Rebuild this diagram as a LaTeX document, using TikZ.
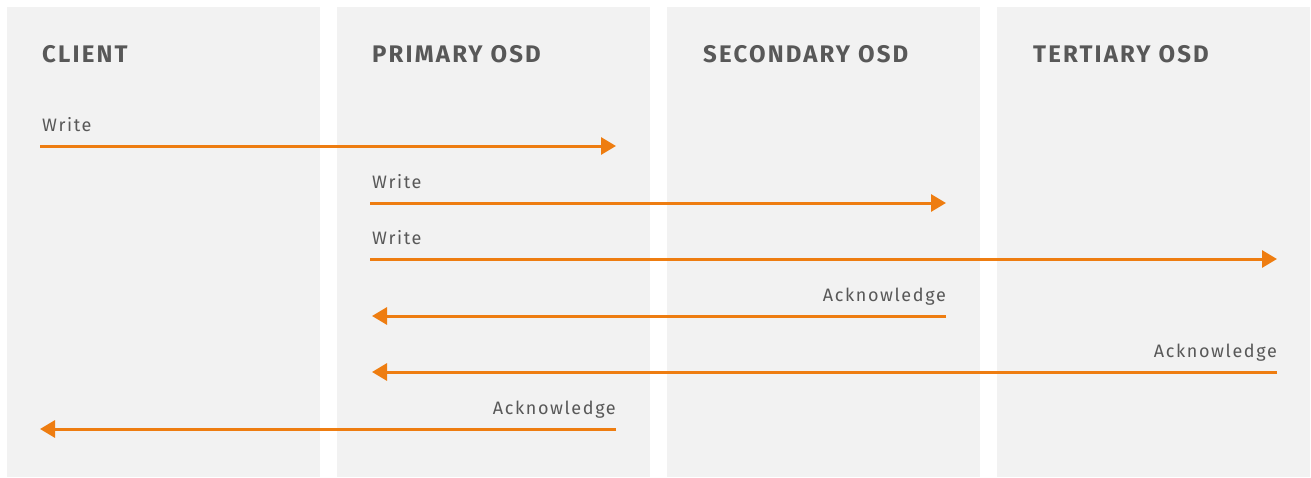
\documentclass[tikz,border=0pt]{standalone}
\usepackage{fontspec}
\setmainfont{Fira Sans}[LetterSpace=9]
\usepackage{xcolor}
\usetikzlibrary{positioning,arrows.meta}

\definecolor{lanegray}{HTML}{F2F2F2}
\definecolor{msgorange}{HTML}{EE7D11}
\definecolor{txtgray}{HTML}{585858}

\begin{document}
\begin{tikzpicture}[x=1pt,y=-1pt]
\tikzstyle{lanehead}=[anchor=base west,inner sep=0pt,text=txtgray,font=\fontsize{24}{26}\selectfont\bfseries]
\tikzstyle{msglabel}=[inner sep=0pt,text=txtgray,font=\fontsize{18}{20}\selectfont]
\tikzstyle{msg}=[draw=msgorange,line width=3pt,-{Triangle[length=15pt,width=17pt]}]

\useasboundingbox (0,0) rectangle (1311,477);

% lanes
\foreach \x in {7,337,667,997}
  \fill[lanegray] (\x,7) rectangle (\x+313,477);

\node[lanehead] (client) at (42,62) {CLIENT};
\node[lanehead] (primary) at (372,62) {PRIMARY OSD};
\node[lanehead] (secondary) at (703,62) {SECONDARY OSD};
\node[lanehead] (tertiary) at (1033,62) {TERTIARY OSD};

% end points of the messages
\coordinate (c1) at (40,146);   \coordinate (p1) at (616,146);
\coordinate (p2) at (370,203);  \coordinate (s2) at (946,203);
\coordinate (p3) at (370,259);  \coordinate (t3) at (1277,259);
\coordinate (s4) at (946,316);  \coordinate (p4) at (372,316);
\coordinate (t5) at (1277,372); \coordinate (p5) at (372,372);
\coordinate (p6) at (616,429);  \coordinate (c6) at (40,429);

\draw[msg] (c1) -- (p1);
\draw[msg] (p2) -- (s2);
\draw[msg] (p3) -- (t3);
\draw[msg] (s4) -- (p4);
\draw[msg] (t5) -- (p5);
\draw[msg] (p6) -- (c6);

\node[msglabel,anchor=base west] (w1) at (42,131) {Write};
\node[msglabel,anchor=base west] (w2) at (372,188) {Write};
\node[msglabel,anchor=base west] (w3) at (372,244) {Write};
\node[msglabel,anchor=base east] (a4) at (946,301) {Acknowledge};
\node[msglabel,anchor=base east] (a5) at (1277,357) {Acknowledge};
\node[msglabel,anchor=base east] (a6) at (616,414) {Acknowledge};
\end{tikzpicture}
\end{document}
